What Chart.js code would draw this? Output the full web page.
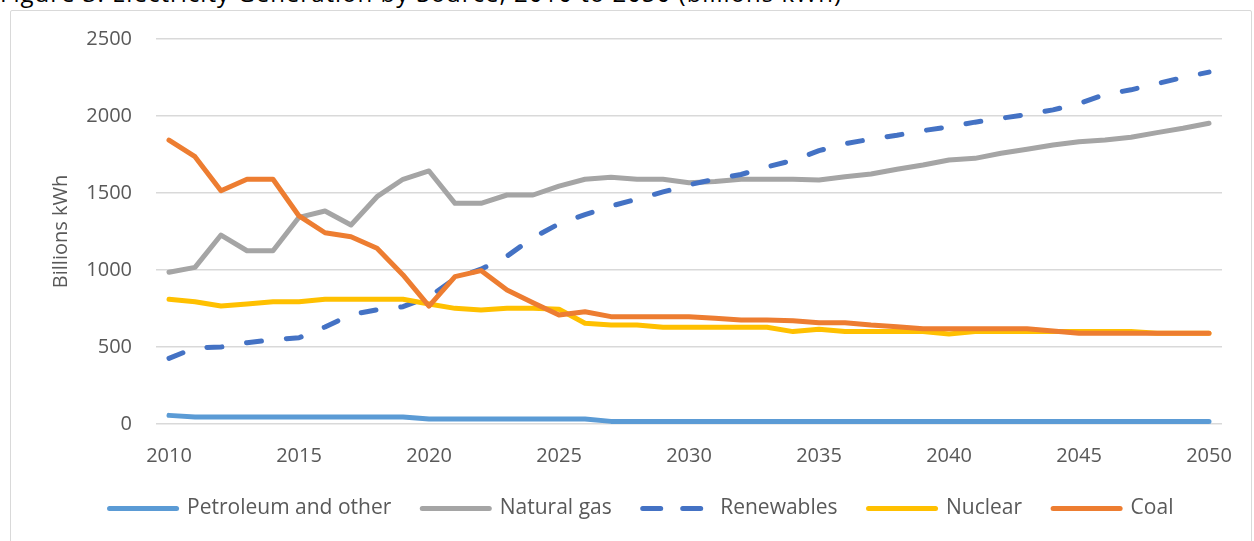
<!DOCTYPE html>
<html>
<head>
<meta charset="utf-8">
<script src="https://cdn.jsdelivr.net/npm/chart.js@4.4.0/dist/chart.umd.min.js"></script>
<style>
html,body{margin:0;padding:0;background:#fff;overflow:hidden;}
#wrap{position:relative;width:1254px;height:541px;overflow:hidden;}
#frame{position:absolute;left:10px;top:10px;width:1242px;height:545px;border:1.5px solid #d9d9d9;box-sizing:border-box;border-radius:2px;}
#title{position:absolute;left:0;top:-19px;font-family:"Open Sans";font-size:24px;line-height:24px;white-space:nowrap;color:#000;}
canvas{position:absolute;left:0;top:0;}
</style>
</head>
<body>
<div id="wrap">
  <div id="frame"></div>
  <div id="title"><span id="titletext">Figure 3. Electricity Generation by Source, 2010 to 2050 (billions kWh)</span></div>
  <canvas id="c" width="1254" height="541"></canvas>
</div>
<script>
const years = ["2010","2011","2012","2013","2014","2015","2016","2017","2018","2019",
  "2020","2021","2022","2023","2024","2025","2026","2027","2028","2029",
  "2030","2031","2032","2033","2034","2035","2036","2037","2038","2039",
  "2040","2041","2042","2043","2044","2045","2046","2047","2048","2049","2050"];
const tickLabels = ["2010","2015","2020","2025","2030","2035","2040","2045","2050"];

const petroleum = [56,46,46,46,46,46,46,46,46,46,
  32,32,32,32,32,32,32,17,17,17,
  17,17,17,17,17,17,17,17,17,17,
  17,17,17,17,17,17,17,17,17,17,17];
const naturalGas = [985,1017,1227,1125,1125,1342,1383,1292,1476,1589,
  1643,1433,1433,1487,1487,1545,1589,1602,1589,1589,
  1567,1574,1589,1589,1589,1584,1606,1623,1654,1682,
  1714,1725,1758,1784,1812,1833,1844,1862,1892,1920,1953];
const renewables = [426,495,500,528,548,560,630,710,742,762,
  825,945,1005,1090,1210,1300,1360,1415,1460,1507,
  1553,1590,1620,1670,1712,1775,1820,1850,1875,1905,
  1930,1960,1985,2010,2040,2080,2140,2170,2210,2250,2285];
const nuclear = [810,794,766,779,794,794,810,810,810,810,
  779,751,740,751,751,745,654,643,643,628,
  628,628,628,628,600,615,600,600,600,600,
  584,600,600,600,600,600,600,600,590,590,590];
const coal = [1844,1736,1515,1589,1589,1351,1242,1216,1141,968,
  766,957,996,870,788,708,729,697,697,697,
  697,686,675,675,671,658,658,643,632,619,
  619,619,619,619,604,589,589,589,589,589,589];

const seriesNames = ["Petroleum and other","Natural gas","Renewables","Nuclear","Coal"];
const seriesColors = ["#5B9BD5","#A5A5A5","#4472C4","#FFC000","#ED7D31"];
const seriesData = [petroleum, naturalGas, renewables, nuclear, coal];

// fit the (cropped) title to its width in the reference
(function(){
  const t = document.getElementById('titletext');
  const w = t.getBoundingClientRect().width;
  const n = t.textContent.length;
  t.style.letterSpacing = ((842 - w) / n) + 'px';
})();

function makeDataset(i){
  const ds = {
    label: seriesNames[i],
    data: seriesData[i],
    borderColor: seriesColors[i],
    backgroundColor: seriesColors[i],
    borderWidth: 5,
    pointRadius: 0,
    pointHoverRadius: 0,
    tension: 0,
    fill: false,
    borderCapStyle: 'round',
    borderJoinStyle: 'round'
  };
  if (seriesNames[i] === "Renewables") ds.borderDash = [15, 25];
  return ds;
}
// reversed so Coal is drawn on top (as in the reference); legend is reversed back
const datasets = [4,3,2,1,0].map(makeDataset);

const grey = '#595959';
Chart.defaults.font.family = '"Open Sans"';
Chart.defaults.color = grey;

function draw(){
  new Chart(document.getElementById('c'), {
    type: 'line',
    data: { labels: years, datasets: datasets },
    options: {
      responsive: false,
      animation: false,
      events: [],
      layout: { padding: { left: 61, right: 32, top: 39, bottom: 12 } },
      plugins: {
        tooltip: { enabled: false },
        legend: {
          position: 'bottom',
          reverse: true,
          labels: {
            usePointStyle: true,
            pointStyle: 'line',
            pointStyleWidth: 67,
            boxHeight: 20,
            padding: 31,
            font: { size: 21 },
            color: grey,
            generateLabels: function(chart){
              const items = Chart.defaults.plugins.legend.labels.generateLabels(chart);
              items.forEach(function(it){
                const ds = chart.data.datasets[it.datasetIndex];
                it.lineDash = ds.borderDash ? [18, 22] : [];
                it.lineWidth = 5;
                it.lineCap = 'round';
                it.strokeStyle = ds.borderColor;
                it.fillStyle = ds.borderColor;
                it.pointStyle = 'line';
              });
              return items;
            }
          }
        }
      },
      scales: {
        x: {
          type: 'category',
          offset: true,
          grid: { display: false, drawTicks: false },
          border: { display: false },
          afterFit: function(s){ s.height = 43; },
          ticks: {
            autoSkip: false,
            maxRotation: 0,
            minRotation: 0,
            padding: 20,
            font: { size: 20 },
            color: grey,
            callback: function(v, i){ const l = years[i]; return tickLabels.includes(l) ? l : ''; }
          }
        },
        y: {
          min: 0,
          max: 2500,
          afterFit: function(s){ s.width = 95; },
          grid: { color: '#d9d9d9', lineWidth: 1.5, drawTicks: false },
          border: { display: false },
          ticks: { stepSize: 500, padding: 24, font: { size: 20 }, color: grey,
                   callback: function(v){ return String(v); } },
          title: {
            display: true,
            text: 'Billions kWh',
            font: { size: 20 },
            color: grey,
            padding: { top: -12, bottom: 13 }
          }
        }
      }
    }
  });
}
if (document.fonts && document.fonts.load) {
  document.fonts.load('20px "Open Sans"').then(draw, draw);
} else { draw(); }
</script>
</body>
</html>
